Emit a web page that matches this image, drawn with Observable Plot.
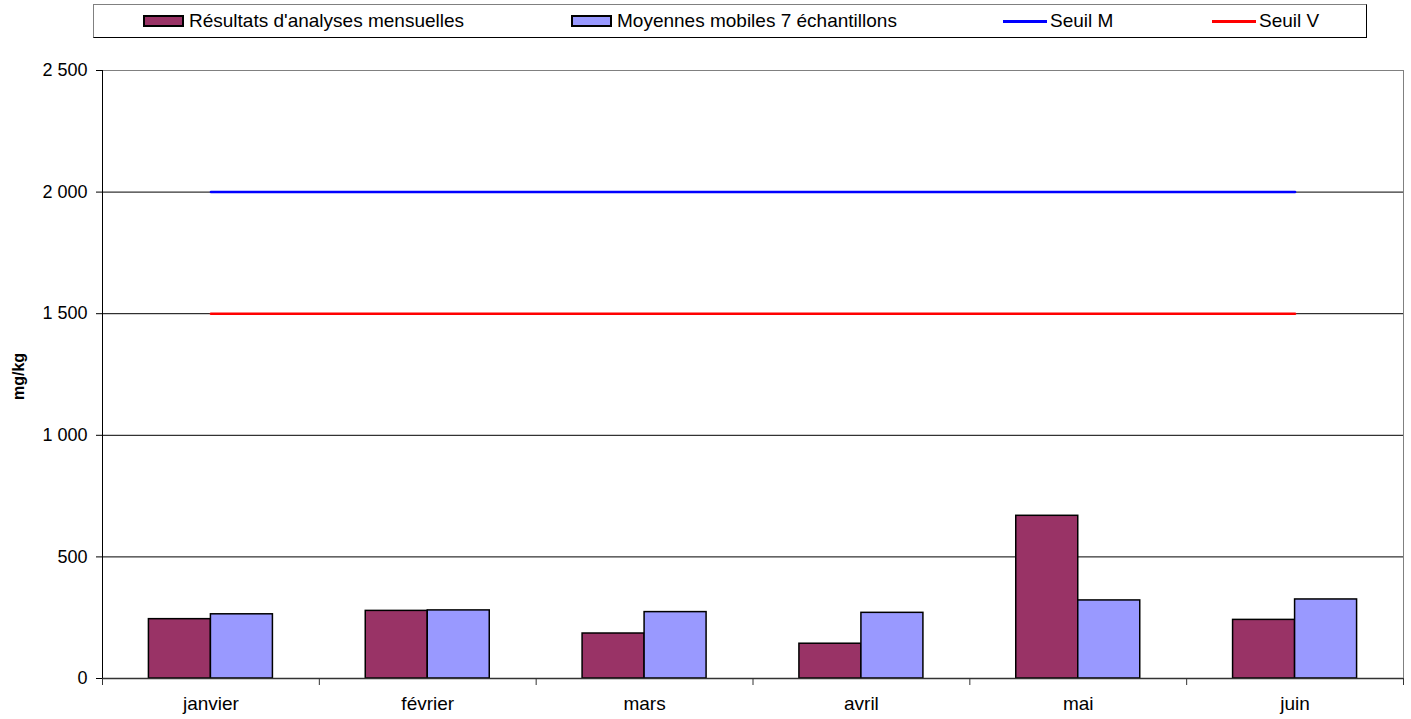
<!DOCTYPE html>
<html>
<head>
<meta charset="utf-8">
<script src="https://cdn.jsdelivr.net/npm/d3@7"></script>
<script src="https://cdn.jsdelivr.net/npm/@observablehq/plot@0.6"></script>
<style>
  html, body { margin: 0; padding: 0; background: #fff; }
  body { font-family: "Liberation Sans", Arial, sans-serif; color: #000; }
  #wrap { position: relative; width: 1411px; height: 719px; }
  #legend { position: absolute; left: 93px; top: 4px; width: 1274px; height: 34px;
            border: 1px solid #000; border-top-color: #808080; border-left-color: #808080; box-sizing: border-box; }
  .item { position: absolute; top: 0; height: 32px; display: flex; align-items: center; font-size: 19px; white-space: nowrap; }
  .sw { width: 41px; height: 12px; border: 2px solid #000; box-sizing: border-box; margin-right: 5px; }
  .ln { width: 44px; height: 3px; margin-right: 3px; }
  #chart { position: absolute; left: 0; top: 42px; }
</style>
</head>
<body>
<div id="wrap">
  <div id="legend"></div>
  <div id="chart"></div>
</div>
<script>
const months = ["janvier", "février", "mars", "avril", "mai", "juin"];
const resultats = [244, 278, 185, 143, 669, 241];
const moyennes = [264, 280, 273, 270, 321, 325];
const seuilM = [2000, 2000, 2000, 2000, 2000, 2000];
const seuilV = [1500, 1500, 1500, 1500, 1500, 1500];
const yTicks = [0, 500, 1000, 1500, 2000, 2500];
const seriesNames = ["Résultats d'analyses mensuelles", "Moyennes mobiles 7 échantillons", "Seuil M", "Seuil V"];
const colors = ["#993366", "#9999FF", "#0000FF", "#FF0000"];
const yLabel = "mg/kg";

// legend
const legend = document.getElementById("legend");
const legendX = [49, 477, 909, 1118];
seriesNames.forEach((name, i) => {
  const it = document.createElement("div");
  it.className = "item";
  it.style.left = legendX[i] + "px";
  const sw = document.createElement("div");
  sw.className = i < 2 ? "sw" : "ln";
  sw.style.background = colors[i];
  it.appendChild(sw);
  const t = document.createElement("span");
  t.textContent = name;
  it.appendChild(t);
  legend.appendChild(it);
});

const W = 1411, H = 677, mL = 102, mR = 8, mT = 28, mB = 41;
const bw = (W - mL - mR) / months.length;
const barW = 62;

const resData = months.map((m, i) => ({month: m, value: resultats[i]}));
const moyData = months.map((m, i) => ({month: m, value: moyennes[i]}));
const mData = months.map((m, i) => ({month: m, value: seuilM[i]}));
const vData = months.map((m, i) => ({month: m, value: seuilV[i]}));

const loc = d3.formatLocale({decimal: ",", thousands: " ", grouping: [3], currency: ["", ""]});
const fmt = loc.format(",");

const plot = Plot.plot({
  width: W, height: H,
  marginLeft: mL, marginRight: mR, marginTop: mT, marginBottom: mB,
  style: {fontFamily: "'Liberation Sans', Arial, sans-serif", fontSize: "19px", color: "#000", background: "#fff"},
  x: {type: "band", domain: months, padding: 0, round: false},
  y: {domain: [0, 2500]},
  marks: [
    Plot.frame({stroke: "#808080"}),
    Plot.gridY(yTicks.slice(1, 5), {stroke: "#000", strokeOpacity: 1, strokeWidth: 1}),
    Plot.barY(resData, {x: "month", y: "value", fill: colors[0], stroke: "#000", strokeWidth: 1.5,
      insetLeft: bw / 2 - barW, insetRight: bw / 2}),
    Plot.barY(moyData, {x: "month", y: "value", fill: colors[1], stroke: "#000", strokeWidth: 1.5,
      insetLeft: bw / 2, insetRight: bw / 2 - barW}),
    Plot.lineY(mData, {x: "month", y: "value", stroke: colors[2], strokeWidth: 2.5}),
    Plot.lineY(vData, {x: "month", y: "value", stroke: colors[3], strokeWidth: 2.5}),
    Plot.ruleY([0], {stroke: "#333", strokeWidth: 1.5}),
    Plot.ruleX([months[0]], {dx: -bw / 2, stroke: "#000", strokeWidth: 1}),
    Plot.axisY({ticks: yTicks, tickFormat: fmt, tickSize: 6, tickPadding: 9, label: null, fontSize: 18}),
    Plot.text([yLabel], {frameAnchor: "left", textAnchor: "middle", dx: -84, dy: 2, rotate: -90, text: d => d,
      fontWeight: "bold", fontSize: 16, fill: "#000"}),
    Plot.axisX({tickSize: 0, tickPadding: 18, label: null, fontSize: 19}),
    Plot.axisX({tickSize: 7, dx: -bw / 2, tickFormat: () => "", label: null, stroke: "#333"}),
    Plot.axisX([months[months.length - 1]], {tickSize: 7, dx: bw / 2, tickFormat: () => "", label: null, stroke: "#333"})
  ]
});
document.getElementById("chart").appendChild(plot);
</script>
</body>
</html>
